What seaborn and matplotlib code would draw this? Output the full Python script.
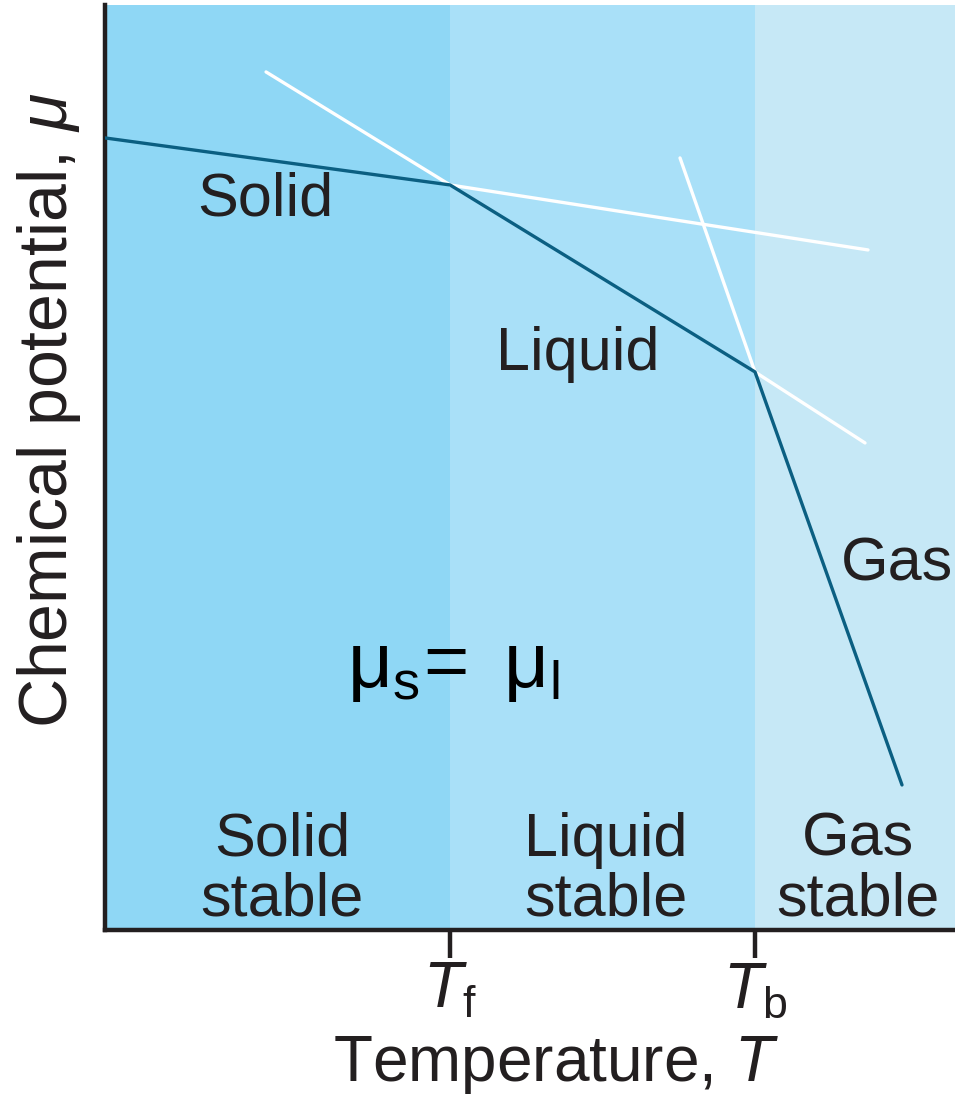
import matplotlib
matplotlib.use("Agg")
import matplotlib.pyplot as plt
import pandas as pd
import seaborn as sns

# ---------------------------------------------------------------
# data (arbitrary temperature / chemical potential units)
T_f = 345
T_b = 650
T_max = 850
mu_max = 925

# stable branch (solid -> liquid -> gas)
stable_T = [0, 345, 650, 797]
stable_mu = [792, 745, 558, 145]

# metastable extensions (white)
ext_id = ["solid", "solid", "liq_low", "liq_low", "liq_high", "liq_high", "gas", "gas"]
ext_T = [345, 763, 161, 345, 650, 760, 575, 650]
ext_mu = [745, 680, 858, 745, 558, 487, 772, 558]

band_edges = [0, T_f, T_b, T_max]
band_colors = ["#8fd7f5", "#a9e0f8", "#c6e8f6"]

tick_pos = [T_f, T_b]
tick_labels = [r"$T_\mathrm{f}$", r"$T_\mathrm{b}$"]

# ---------------------------------------------------------------
sns.set_style("white")
plt.rcParams["font.family"] = ["Liberation Sans", "DejaVu Sans"]
plt.rcParams["mathtext.fontset"] = "custom"
plt.rcParams["mathtext.rm"] = "Liberation Sans"
plt.rcParams["mathtext.it"] = "Liberation Sans:italic"

ink = "#231f20"
fig = plt.figure(figsize=(9.55, 10.96), dpi=100)
ax = fig.add_axes([0.110, 0.1515, 0.890, 0.844])

# phase bands
for i in range(3):
    ax.axvspan(band_edges[i], band_edges[i + 1], color=band_colors[i], lw=0, zorder=0)

ext = pd.DataFrame({"seg": ext_id, "T": ext_T, "mu": ext_mu})
sns.lineplot(data=ext, x="T", y="mu", units="seg", estimator=None, sort=False,
             color="white", lw=2.4, ax=ax, zorder=2)
stab = pd.DataFrame({"T": stable_T, "mu": stable_mu})
sns.lineplot(data=stab, x="T", y="mu", sort=False, color="#0b5f82", lw=2.4,
             ax=ax, zorder=3)

# labels inside
fs = 44
ax.text(160, 730, "Solid", fontsize=fs, color=ink, ha="center", va="center")
ax.text(473, 575, "Liquid", fontsize=fs, color=ink, ha="center", va="center")
ax.text(792, 365, "Gas", fontsize=fs, color=ink, ha="center", va="center")
ax.text(177, 60, "Solid\nstable", fontsize=fs, color=ink, ha="center", va="center",
        linespacing=1.05)
ax.text(501, 60, "Liquid\nstable", fontsize=fs, color=ink, ha="center", va="center",
        linespacing=1.05)
ax.text(753, 60, "Gas\nstable", fontsize=fs, color=ink, ha="center", va="center",
        linespacing=1.05)
ax.text(348, 262, r"$\mathrm{\mu_s\!=\ \mu_l}$", fontsize=56, color="black",
        ha="center", va="center")

ax.set_xlim(0, T_max)
ax.set_ylim(0, mu_max)
ax.set_xticks(tick_pos)
ax.set_xticklabels(tick_labels, fontsize=46, color=ink)
ax.set_yticks([])
ax.tick_params(axis="x", direction="out", length=20, width=3.2, color=ink, pad=2,
               bottom=True)
ax.set_xlabel(r"Temperature, $T$", fontsize=46, color=ink)
ax.xaxis.set_label_coords(0.53, -0.112)
ax.set_ylabel(r"Chemical potential, $\mu$", fontsize=49, color=ink)
ax.yaxis.set_label_coords(-0.026, 0.562)

for s in ["top", "right"]:
    ax.spines[s].set_visible(False)
for s in ["left", "bottom"]:
    ax.spines[s].set_color(ink)
    ax.spines[s].set_linewidth(3.2)

fig.savefig("out.png", dpi=100)
